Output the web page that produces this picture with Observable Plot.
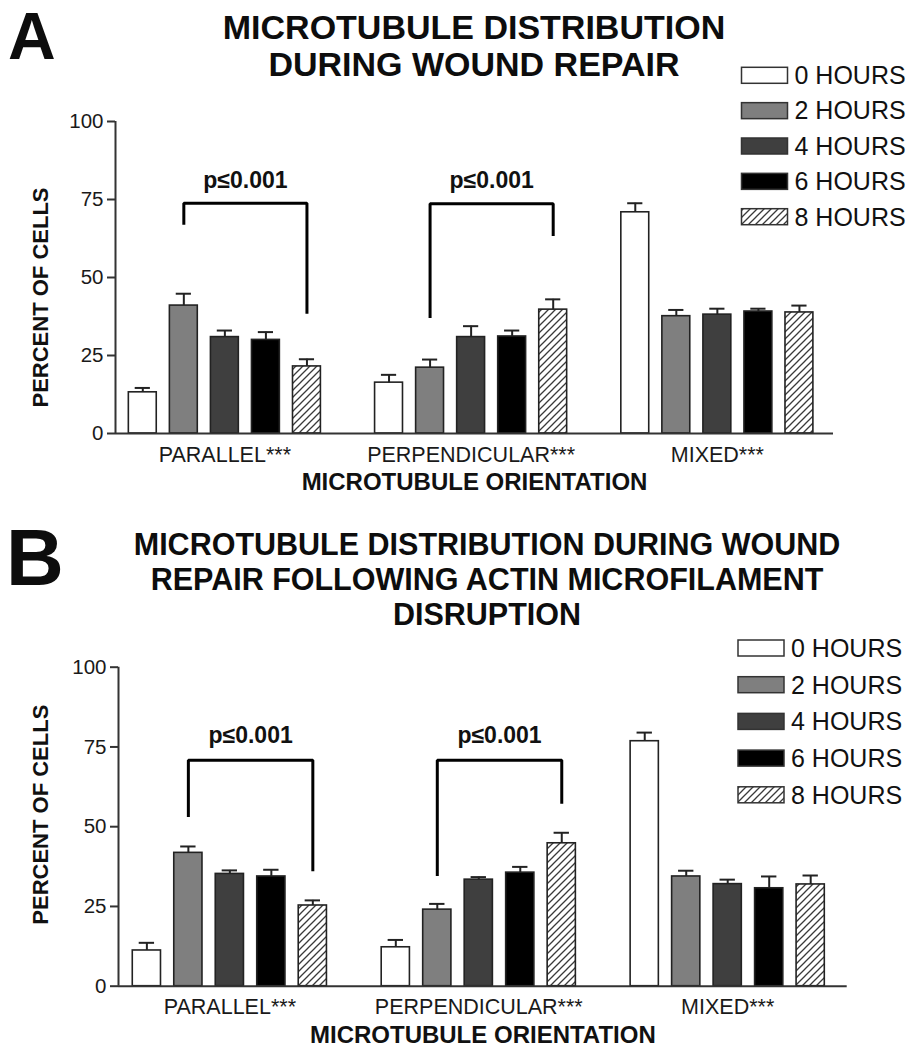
<!DOCTYPE html>
<html><head><meta charset="utf-8">
<script src="https://cdn.jsdelivr.net/npm/d3@7"></script>
<script src="https://cdn.jsdelivr.net/npm/@observablehq/plot@0.6"></script>
<style>
body{margin:0;background:#fff;}
#root{position:relative;width:911px;height:1051px;overflow:hidden;font-family:"Liberation Sans",Arial,sans-serif;}
#root > svg{position:absolute;left:0;}
</style></head><body><div id="root"></div>
<script>
// ---------- data ----------
const groups = ["PARALLEL***", "PERPENDICULAR***", "MIXED***"];
const hours = ["0 HOURS", "2 HOURS", "4 HOURS", "6 HOURS", "8 HOURS"];
const fills = ["#ffffff", "#7f7f7f", "#3f3f3f", "#000000", "url(#hatch)"];
const yTicks = [0, 25, 50, 75, 100];
const pLabel = "p\u22640.001";

// Panel A: microtubule distribution during wound repair
const aParallel = [13.2, 41.0, 30.9, 30.0, 21.5];
const aParallelErr = [1.4, 3.8, 2.1, 2.5, 2.3];
const aPerpendicular = [16.3, 21.1, 30.9, 31.1, 39.7];
const aPerpendicularErr = [2.5, 2.6, 3.5, 1.9, 3.3];
const aMixed = [70.9, 37.6, 38.1, 39.1, 38.8];
const aMixedErr = [2.9, 2.0, 1.9, 0.9, 2.2];

// Panel B: following actin microfilament disruption
const bParallel = [11.2, 41.8, 35.2, 34.4, 25.3];
const bParallelErr = [2.4, 2.0, 1.1, 2.1, 1.6];
const bPerpendicular = [12.2, 24.0, 33.4, 35.6, 44.8];
const bPerpendicularErr = [2.3, 1.8, 0.8, 1.8, 3.3];
const bMixed = [76.8, 34.4, 32.0, 30.7, 31.9];
const bMixedErr = [2.7, 1.8, 1.4, 3.7, 2.8];

// significance brackets (group index, from hour index, to hour index, values in %)
const aBrackets = [
  {group: 0, from: 1, to: 4, top: 73.8, leftEnd: 67.4, rightEnd: 38.9, label: 81},
  {group: 1, from: 1, to: 4, top: 73.6, leftEnd: 37.5, rightEnd: 63.8, label: 81}
];
const bBrackets = [
  {group: 0, from: 1, to: 4, top: 70.8, leftEnd: 53.5, rightEnd: 36.5, label: 78.6},
  {group: 1, from: 1, to: 4, top: 70.8, leftEnd: 35.0, rightEnd: 57.7, label: 78.6}
];

// ---------- helpers ----------
const FONT = "Liberation Sans, Arial, Helvetica, sans-serif";
const slotOf = (g, h) => g * 6 + h;

function rowsOf(means, errs) {
  const out = [];
  means.forEach((arr, g) => arr.forEach((v, h) => out.push({
    slot: slotOf(g, h), group: groups[g], hour: hours[h], value: v, err: errs[g][h]
  })));
  return out;
}
function bracketPts(br) {
  const pts = [];
  br.forEach((b, i) => {
    const x1 = slotOf(b.group, b.from), x2 = slotOf(b.group, b.to);
    pts.push({id: i, x: x1, y: b.leftEnd}, {id: i, x: x1, y: b.top},
             {id: i, x: x2, y: b.top}, {id: i, x: x2, y: b.rightEnd});
  });
  return pts;
}

function panel(cfg) {
  const rows = rowsOf(cfg.means, cfg.errs);
  const svg = Plot.plot({
    width: 911, height: cfg.height,
    marginTop: cfg.mt, marginBottom: cfg.mb, marginLeft: cfg.ml, marginRight: cfg.mr,
    style: {fontFamily: FONT, fontSize: "20.5px", color: "#1a1a1a", background: "transparent", overflow: "visible"},
    x: {domain: cfg.xDomain, ticks: [2, 8, 14], tickFormat: d => groups[Math.round((d - 2) / 6)], tickSize: 0, tickPadding: 13, label: null},
    y: {domain: [0, 100], ticks: yTicks, tickSize: 8, tickPadding: 4, label: null},
    color: {type: "ordinal", domain: hours, range: fills},
    marks: [
      Plot.rectY(rows, {x1: d => d.slot - 0.34, x2: d => d.slot + 0.34, y1: 0, y2: "value", fill: "hour", stroke: "#222", strokeWidth: 1.6}),
      Plot.ruleX(rows, {x: "slot", y1: "value", y2: d => d.value + d.err, stroke: "#222", strokeWidth: 2}),
      Plot.ruleY(rows, {y: d => d.value + d.err, x1: d => d.slot - 0.185, x2: d => d.slot + 0.185, stroke: "#222", strokeWidth: 2}),
      Plot.line(bracketPts(cfg.brackets), {x: "x", y: "y", z: "id", stroke: "#000", strokeWidth: 3, strokeLinejoin: "miter", strokeLinecap: "square", curve: "linear"}),
      Plot.text(cfg.brackets, {x: b => (slotOf(b.group, b.from) + slotOf(b.group, b.to)) / 2, y: "label", text: () => pLabel, fontSize: 23, fontWeight: "bold", fill: "#111"}),
      Plot.ruleY([0], {stroke: "#333", strokeWidth: 2}),
      Plot.ruleX([cfg.xDomain[0]], {stroke: "#333", strokeWidth: 2}),
      Plot.text(["PERCENT OF CELLS"], {frameAnchor: "left", textAnchor: "middle", lineAnchor: "middle", rotate: -90, dx: cfg.yTitleDx, dy: cfg.yTitleDy, fontSize: 22, fontWeight: "bold", fill: "#111"}),
      Plot.text(["MICROTUBULE ORIENTATION"], {frameAnchor: "bottom", lineAnchor: "middle", dy: cfg.xTitleDy, fontSize: 24, fontWeight: "bold", fill: "#111"})
    ]
  });
  const s = d3.select(svg);
  s.selectAll('[aria-label*="y-axis"] path, [aria-label*="y-axis"] line').attr("stroke-width", 2).attr("stroke", "#333");
  s.selectAll('[aria-label*="y-axis"] text').style("font-size", "20.5px");
  s.selectAll('[aria-label*="x-axis"] text').style("font-size", "21.5px");
  svg.style.top = cfg.top + "px";
  return svg;
}

// ---------- overlay: titles, legends, pattern ----------
const root = document.getElementById("root");
const over = d3.create("svg").attr("width", 911).attr("height", 1051).style("top", "0px")
  .attr("font-family", FONT);
const pat = over.append("defs").append("pattern").attr("id", "hatch")
  .attr("patternUnits", "userSpaceOnUse").attr("width", 7).attr("height", 7);
pat.append("rect").attr("width", 7).attr("height", 7).attr("fill", "#fff");
pat.append("path").attr("d", "M-1,1 L1,-1 M0,7 L7,0 M6,8 L8,6").attr("stroke", "#3a3a3a").attr("stroke-width", 1.3);

function txt(x, y, s, size, anchor) {
  over.append("text").attr("x", x).attr("y", y).attr("font-size", size).attr("font-weight", "bold")
    .attr("text-anchor", anchor || "start").attr("fill", "#0d0d0d").text(s);
}
txt(8, 59, "A", 66);
txt(474, 39, "MICROTUBULE DISTRIBUTION", 34, "middle");
txt(474, 76, "DURING WOUND REPAIR", 34, "middle");
txt(6, 585, "B", 80);
txt(487, 555, "MICROTUBULE DISTRIBUTION DURING WOUND", 30.5, "middle");
txt(487, 590, "REPAIR FOLLOWING ACTIN MICROFILAMENT", 30.5, "middle");
txt(487, 625, "DISRUPTION", 30.5, "middle");

function legend(x0, y0, pitch) {
  hours.forEach((h, i) => {
    const cy = y0 + i * pitch;
    over.append("rect").attr("x", x0).attr("y", cy - 8).attr("width", 46).attr("height", 16)
      .attr("fill", fills[i]).attr("stroke", "#333").attr("stroke-width", 1.5);
    over.append("text").attr("x", x0 + 53).attr("y", cy + 8.8).attr("font-size", 25).attr("fill", "#111").text(h);
  });
}
legend(741.5, 75.3, 35.35);
legend(738, 648, 36.7);
root.appendChild(over.node());

root.appendChild(panel({
  top: 95, height: 410, mt: 26, mb: 72, ml: 115, mr: 78,
  xDomain: [-0.665, 16.83],
  means: [aParallel, aPerpendicular, aMixed], errs: [aParallelErr, aPerpendicularErr, aMixedErr],
  brackets: aBrackets, yTitleDx: -75, yTitleDy: 20, xTitleDy: 49
}));
root.appendChild(panel({
  top: 640, height: 411, mt: 26.7, mb: 65.3, ml: 118, mr: 64.3,
  xDomain: [-0.684, 16.88],
  means: [bParallel, bPerpendicular, bMixed], errs: [bParallelErr, bPerpendicularErr, bMixedErr],
  brackets: bBrackets, yTitleDx: -78, yTitleDy: -12, xTitleDy: 49
}));
</script></body></html>
